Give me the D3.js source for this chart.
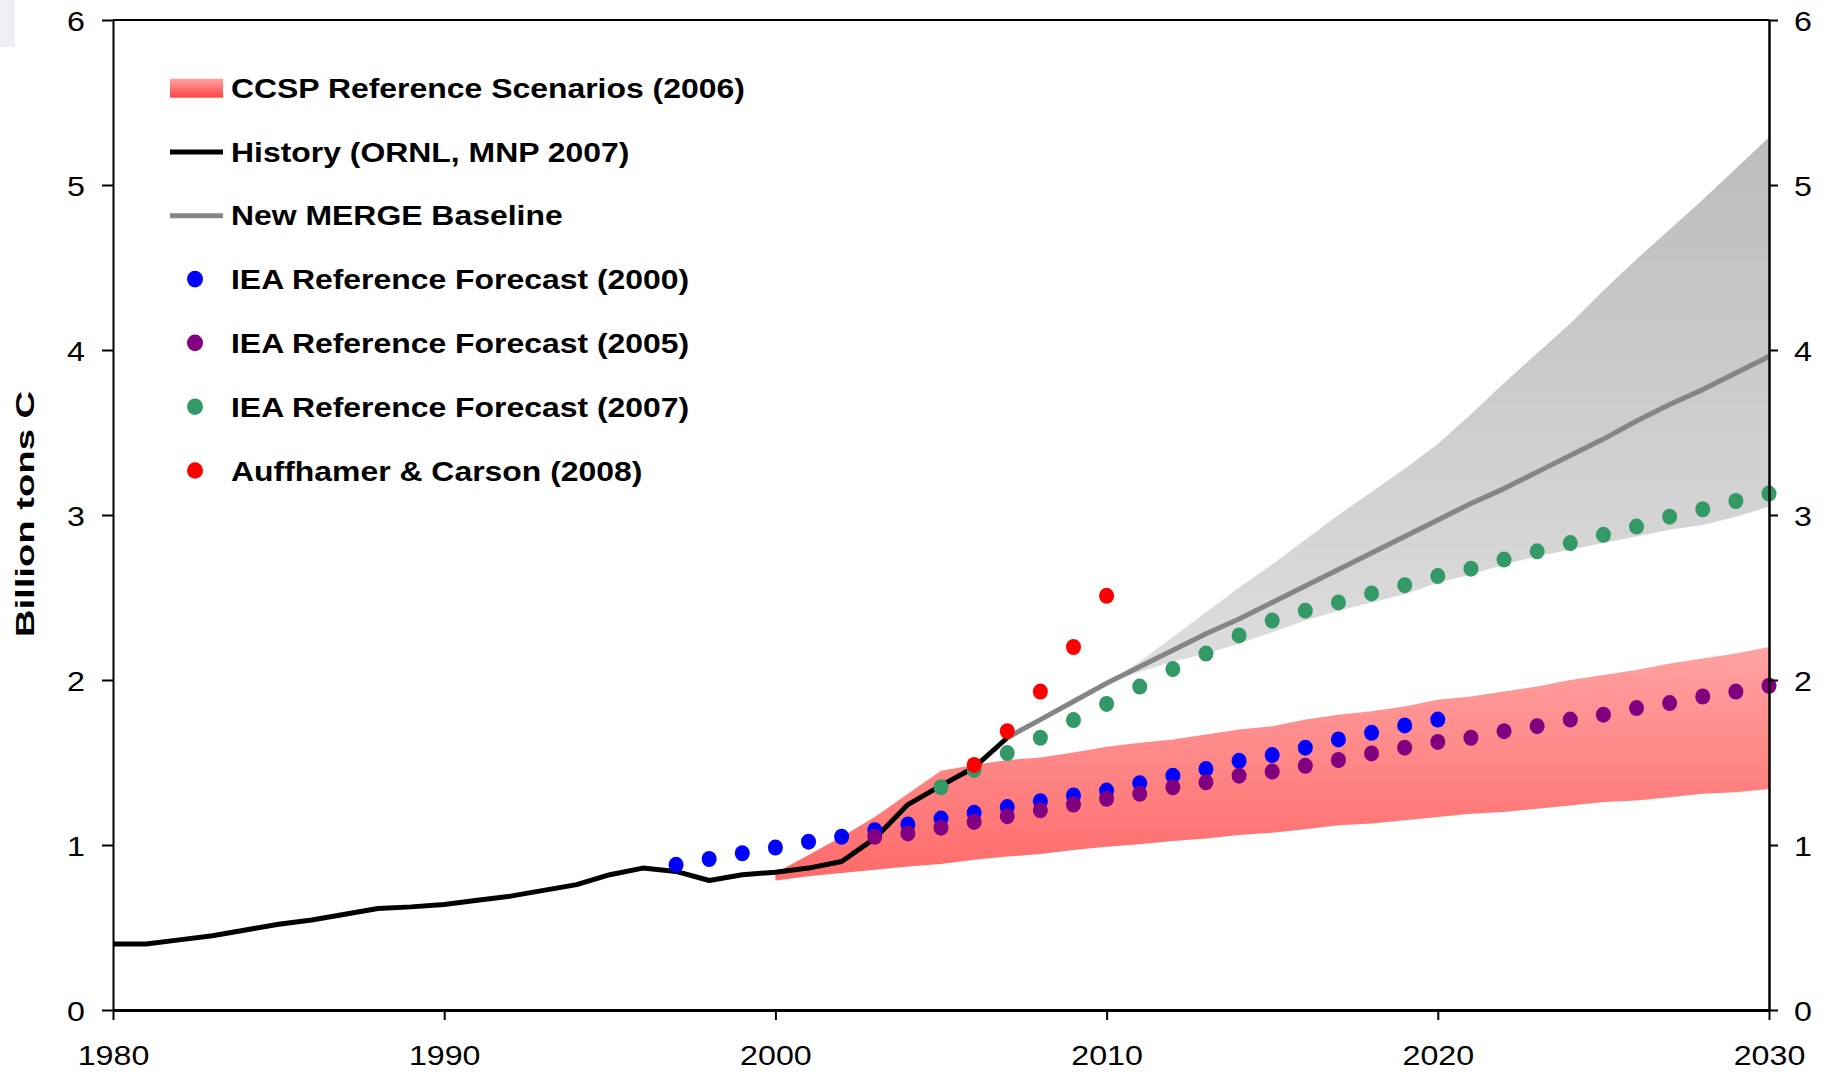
<!DOCTYPE html>
<html>
<head>
<meta charset="utf-8">
<script src="https://cdn.jsdelivr.net/npm/d3@7"></script>
<style>
  html, body { margin: 0; padding: 0; background: #ffffff; }
  svg { display: block; font-family: "Liberation Sans", Arial, Helvetica, sans-serif; }
</style>
</head>
<body>
<svg id="chart" width="1827" height="1073"></svg>
<script>
// ---- data (billion tons of carbon per year) ----
const historyYears = d3.range(1980, 2008);
const historyValues = [0.40, 0.40, 0.425, 0.45, 0.485, 0.52, 0.545, 0.58, 0.615, 0.625,
                       0.64, 0.665, 0.69, 0.725, 0.76, 0.82, 0.86, 0.84, 0.785, 0.82,
                       0.835, 0.86, 0.90, 1.04, 1.245, 1.36, 1.47, 1.65];

const mergeYears = d3.range(2007, 2031);
const mergeValues = [1.65, 1.76, 1.87, 1.98, 2.08, 2.18, 2.28, 2.37, 2.47, 2.57, 2.67, 2.77,
                     2.87, 2.97, 3.07, 3.16, 3.26, 3.36, 3.46, 3.57, 3.67, 3.76, 3.86, 3.96];

const mergeBandYears = d3.range(2010, 2031);
const mergeBandLow  = [1.98, 2.05, 2.11, 2.16, 2.22, 2.29, 2.36, 2.42, 2.47, 2.52, 2.59,
                       2.64, 2.70, 2.75, 2.79, 2.83, 2.87, 2.91, 2.94, 2.99, 3.05];
const mergeBandHigh = [1.98, 2.11, 2.26, 2.41, 2.56, 2.70, 2.85, 3.00, 3.14, 3.28, 3.43,
                       3.61, 3.80, 3.98, 4.16, 4.36, 4.55, 4.73, 4.91, 5.10, 5.29];

const ccspYears = d3.range(2000, 2031);
const ccspLow  = [0.785, 0.81, 0.83, 0.85, 0.87, 0.885, 0.91, 0.93, 0.945, 0.97, 0.99,
                  1.005, 1.025, 1.04, 1.06, 1.075, 1.095, 1.12, 1.13, 1.15, 1.17,
                  1.19, 1.20, 1.22, 1.24, 1.26, 1.27, 1.29, 1.31, 1.32, 1.34];
const ccspHigh = [0.83, 0.94, 1.05, 1.17, 1.31, 1.45, 1.485, 1.515, 1.53, 1.56, 1.595,
                  1.62, 1.64, 1.67, 1.70, 1.72, 1.76, 1.79, 1.81, 1.84, 1.88,
                  1.90, 1.93, 1.96, 2.00, 2.03, 2.06, 2.10, 2.13, 2.16, 2.20];

const iea2000Years = d3.range(1997, 2021);
const iea2000Values = [0.88, 0.915, 0.95, 0.985, 1.02, 1.05, 1.09, 1.125, 1.16, 1.195, 1.23, 1.265,
                       1.30, 1.33, 1.375, 1.42, 1.46, 1.51, 1.545, 1.59, 1.64, 1.68, 1.725, 1.76];

const iea2005Years = d3.range(2003, 2031);
const iea2005Values = [1.05, 1.07, 1.105, 1.14, 1.175, 1.21, 1.245, 1.28, 1.31, 1.35, 1.38, 1.42,
                       1.445, 1.48, 1.515, 1.555, 1.59, 1.625, 1.65, 1.69, 1.72, 1.76, 1.79, 1.83,
                       1.86, 1.90, 1.93, 1.965];

const iea2007Years = d3.range(2005, 2031);
const iea2007Values = [1.35, 1.455, 1.557, 1.65, 1.757, 1.855, 1.96, 2.066, 2.16, 2.27, 2.36, 2.42,
                       2.47, 2.525, 2.575, 2.63, 2.675, 2.73, 2.78, 2.83, 2.88, 2.93, 2.99, 3.035,
                       3.085, 3.13];

const acYears = d3.range(2006, 2011);
const acValues = [1.485, 1.69, 1.93, 2.20, 2.51];

const xTicks = [1980, 1990, 2000, 2010, 2020, 2030];
const yTicks = [0, 1, 2, 3, 4, 5, 6];
const yTitle = "Billion tons C";
const legendLabels = [
  "CCSP Reference Scenarios (2006)",
  "History (ORNL, MNP 2007)",
  "New MERGE Baseline",
  "IEA Reference Forecast (2000)",
  "IEA Reference Forecast (2005)",
  "IEA Reference Forecast (2007)",
  "Auffhamer & Carson (2008)"
];

// ---- layout ----
const svg = d3.select("#chart");
const plot = { left: 113, right: 1769, top: 20, bottom: 1010 };
const x = d3.scaleLinear().domain([1980, 2030]).range([plot.left, plot.right]);
const y = d3.scaleLinear().domain([0, 6]).range([plot.bottom, plot.top]);
const textStretch = 1.15;

// faint patch in the top-left corner
svg.append("rect").attr("x", 0).attr("y", 0).attr("width", 15).attr("height", 47).attr("fill", "#eff0f5");

// gradients
const defs = svg.append("defs");
function vGrad(id, top, bottom) {
  const g = defs.append("linearGradient").attr("id", id)
    .attr("x1", 0).attr("y1", 0).attr("x2", 0).attr("y2", 1);
  g.append("stop").attr("offset", "0%").attr("stop-color", top);
  g.append("stop").attr("offset", "100%").attr("stop-color", bottom);
}
vGrad("ccspFill", "#ffa2a2", "#ff6a6a");
vGrad("ccspSwatch", "#ffa3a3", "#ff4343");
vGrad("mergeFill", "#bcbcbc", "#dedede");

const zip = (xs, ys) => xs.map((d, i) => [d, ys[i]]);
const bandData = (xs, lo, hi) => xs.map((d, i) => ({ yr: d, lo: lo[i], hi: hi[i] }));
const area = d3.area().x(d => x(d.yr)).y0(d => y(d.lo)).y1(d => y(d.hi));
const line = d3.line().x(d => x(d[0])).y(d => y(d[1])).curve(d3.curveLinear);

// bands
svg.append("path").datum(bandData(ccspYears, ccspLow, ccspHigh))
  .attr("d", area).attr("fill", "url(#ccspFill)");
svg.append("path").datum(bandData(mergeBandYears, mergeBandLow, mergeBandHigh))
  .attr("d", area).attr("fill", "url(#mergeFill)");

// lines
svg.append("path").datum(zip(historyYears, historyValues))
  .attr("d", line).attr("fill", "none").attr("stroke", "#000").attr("stroke-width", 5)
  .attr("stroke-linejoin", "round");
svg.append("path").datum(zip(mergeYears, mergeValues))
  .attr("d", line).attr("fill", "none").attr("stroke", "#858585").attr("stroke-width", 5)
  .attr("stroke-linejoin", "round");

// point series
function dots(xs, vs, color) {
  svg.append("g").selectAll("ellipse").data(zip(xs, vs)).join("ellipse")
    .attr("cx", d => x(d[0])).attr("cy", d => y(d[1]))
    .attr("rx", 7.5).attr("ry", 8).attr("fill", color);
}
dots(iea2000Years, iea2000Values, "#0000ff");
dots(iea2005Years, iea2005Values, "#800080");
dots(iea2007Years, iea2007Values, "#339966");
dots(acYears, acValues, "#ff0000");

// axes
const fontSize = 28;
const gLeft = svg.append("g").attr("transform", `translate(${plot.left},0)`)
  .call(d3.axisLeft(y).tickValues(yTicks).tickFormat(d3.format("d")).tickSize(11).tickSizeOuter(0));
gLeft.select(".domain").attr("stroke-width", 2);
gLeft.selectAll(".tick line").attr("stroke-width", 2);
gLeft.selectAll(".tick text")
  .attr("x", 0).attr("dy", "0.36em").attr("fill", "#000")
  .attr("font-size", fontSize).attr("font-family", "Liberation Sans, Arial, sans-serif")
  .attr("text-anchor", "end")
  .attr("transform", `translate(-28,0) scale(${textStretch},1)`);

const gRight = svg.append("g").attr("transform", `translate(${plot.right},0)`)
  .call(d3.axisRight(y).tickValues(yTicks).tickFormat(d3.format("d")).tickSize(9).tickSizeOuter(0));
gRight.select(".domain").attr("stroke-width", 2.5);
gRight.selectAll(".tick line").attr("stroke-width", 2);
gRight.selectAll(".tick text")
  .attr("x", 0).attr("dy", "0.36em").attr("fill", "#000")
  .attr("font-size", fontSize).attr("font-family", "Liberation Sans, Arial, sans-serif")
  .attr("text-anchor", "start")
  .attr("transform", `translate(25,0) scale(${textStretch},1)`);

const gBottom = svg.append("g").attr("transform", `translate(0,${plot.bottom})`)
  .call(d3.axisBottom(x).tickValues(xTicks).tickFormat(d3.format("d")).tickSize(10).tickSizeOuter(0));
gBottom.select(".domain").attr("stroke-width", 3);
gBottom.selectAll(".tick line").attr("stroke-width", 2);
gBottom.selectAll(".tick text")
  .attr("y", 0).attr("dy", 0).attr("fill", "#000")
  .attr("font-size", fontSize).attr("font-family", "Liberation Sans, Arial, sans-serif")
  .attr("text-anchor", "middle")
  .attr("transform", `translate(0,55) scale(${textStretch},1)`);

// top frame line
svg.append("line").attr("x1", x(1980)).attr("x2", x(2030)).attr("y1", y(6)).attr("y2", y(6))
  .attr("stroke", "#000").attr("stroke-width", 2);

// y-axis title
svg.append("text").text(yTitle)
  .attr("transform", `translate(34,${(plot.top + plot.bottom) / 2 - 1}) rotate(-90) scale(1.47,1)`)
  .attr("text-anchor", "middle").attr("font-size", 26).attr("font-weight", "bold").attr("fill", "#000");

// legend
const legend = svg.append("g");
const legendTypes = [
  { type: "swatch" },
  { type: "line", color: "#000" },
  { type: "line", color: "#858585" },
  { type: "dot", color: "#0000ff" },
  { type: "dot", color: "#800080" },
  { type: "dot", color: "#339966" },
  { type: "dot", color: "#ff0000" }
];
const legendTop = 97.7, legendStep = 63.8;
legendLabels.forEach((label, i) => {
  const base = legendTop + i * legendStep;
  const mid = base - 10;
  const t = legendTypes[i];
  if (t.type === "swatch") {
    legend.append("rect").attr("x", 170).attr("y", base - 19).attr("width", 53).attr("height", 19)
      .attr("fill", "url(#ccspSwatch)");
  } else if (t.type === "line") {
    legend.append("line").attr("x1", 170).attr("x2", 223).attr("y1", mid + 0.5).attr("y2", mid + 0.5)
      .attr("stroke", t.color).attr("stroke-width", 5);
  } else {
    legend.append("ellipse").attr("cx", 195).attr("cy", mid).attr("rx", 8).attr("ry", 8.3)
      .attr("fill", t.color);
  }
  legend.append("text").text(label)
    .attr("transform", `translate(231,${base}) scale(1.14,1)`)
    .attr("font-size", 28).attr("font-weight", "bold").attr("fill", "#000");
});
</script>
</body>
</html>
